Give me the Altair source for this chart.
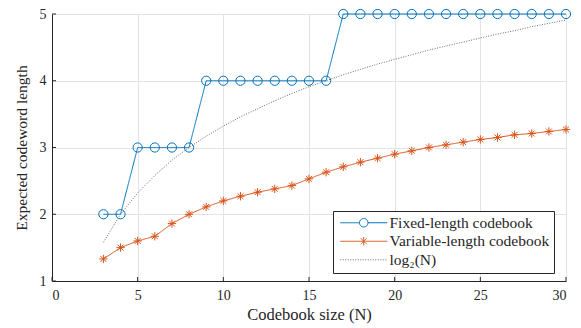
import altair as alt
import pandas as pd

N = list(range(3, 31))
fixed_len = [2, 2, 3, 3, 3, 3, 4, 4, 4, 4, 4, 4, 4, 4, 5, 5, 5, 5, 5, 5, 5, 5, 5, 5, 5, 5, 5, 5]
variable_len = [1.33, 1.50, 1.60, 1.67, 1.86, 2.00, 2.11, 2.20, 2.27, 2.33, 2.38, 2.43, 2.53, 2.63,
                2.71, 2.78, 2.84, 2.90, 2.95, 3.00, 3.04, 3.08, 3.12, 3.15, 3.19, 3.21, 3.24, 3.27]
log2_vals = [1.58, 2.00, 2.32, 2.58, 2.81, 3.00, 3.17, 3.32, 3.46, 3.58, 3.70, 3.81, 3.91, 4.00,
             4.09, 4.17, 4.25, 4.32, 4.39, 4.46, 4.52, 4.58, 4.64, 4.70, 4.75, 4.81, 4.86, 4.91]
series_names = ["Fixed-length codebook", "Variable-length codebook", "log\u2082(N)"]
x_ticks = [0, 5, 10, 15, 20, 25, 30]
y_ticks = [1, 2, 3, 4, 5]

BLUE = "#0072BD"
ORANGE = "#D95319"
GRAY = "#6e6e6e"
DARK = "#262626"
FONT = "Liberation Serif"

rows = []
for name, vals in zip(series_names, [fixed_len, variable_len, log2_vals]):
    for n, v in zip(N, vals):
        rows.append({"N": n, "value": v, "series": name})
df = pd.DataFrame(rows)

xticks_df = pd.DataFrame({"t": x_ticks})
yticks_df = pd.DataFrame({"t": y_ticks})

W, H = 514, 267

x_scale = alt.Scale(domain=[0, 30], nice=False, zero=False)
y_scale = alt.Scale(domain=[1, 5], nice=False, zero=False)

x_enc = alt.X("N:Q", scale=x_scale,
              axis=alt.Axis(values=x_ticks, format="d", title="Codebook size (N)", grid=True))
y_enc = alt.Y("value:Q", scale=y_scale,
              axis=alt.Axis(values=y_ticks, format="d", title="Expected codeword length", grid=True))

asterisk = "M-1,0L1,0M0,-1L0,1M-0.7,-0.7L0.7,0.7M-0.7,0.7L0.7,-0.7"
# legend symbols: unit = sqrt(symbolSize)/2 = 5px, so +-4.7 units = 47px wide
leg_circle = ("M-4.7,0L-0.85,0M0.85,0L4.7,0"
              "M-0.85,0A0.85,0.85 0 1,0 0.85,0A0.85,0.85 0 1,0 -0.85,0")
leg_star = ("M-4.7,0L4.7,0M0,-0.85L0,0.85M-0.6,-0.6L0.6,0.6M-0.6,0.6L0.6,-0.6")
leg_line = "M-4.7,0L4.7,0"

color_scale = alt.Scale(domain=series_names, range=[BLUE, ORANGE, GRAY])
dash_scale = alt.Scale(domain=series_names, range=[[1, 0], [1, 0], [1, 1.5]])
shape_scale = alt.Scale(domain=series_names, range=[leg_circle, leg_star, leg_line])

base = alt.Chart(df)

lines = base.mark_line(strokeWidth=1).encode(
    x=x_enc, y=y_enc,
    color=alt.Color("series:N", scale=color_scale, title=None),
    strokeDash=alt.StrokeDash("series:N", scale=dash_scale, title=None),
    detail="series:N",
)

circles = base.transform_filter(
    alt.datum.series == series_names[0]
).mark_point(shape="circle", filled=False, size=85, strokeWidth=1, color=BLUE, opacity=1).encode(
    x=alt.X("N:Q", scale=x_scale), y=alt.Y("value:Q", scale=y_scale)
)

stars = base.transform_filter(
    alt.datum.series == series_names[1]
).mark_point(shape=asterisk, filled=False, size=70, strokeWidth=1, color=ORANGE, opacity=1).encode(
    x=alt.X("N:Q", scale=x_scale), y=alt.Y("value:Q", scale=y_scale)
)

legend_layer = base.transform_filter("false").mark_point(filled=False, strokeWidth=1, opacity=1).encode(
    x=alt.X("N:Q", scale=x_scale), y=alt.Y("value:Q", scale=y_scale),
    color=alt.Color("series:N", scale=color_scale, title=None),
    strokeDash=alt.StrokeDash("series:N", scale=dash_scale, title=None),
    shape=alt.Shape("series:N", scale=shape_scale, title=None),
)

xt = alt.Chart(xticks_df).mark_rule(color=DARK, strokeWidth=1).encode(
    x=alt.X("t:Q", scale=x_scale), y=alt.value(H), y2=alt.value(H - 4)
)
yt = alt.Chart(yticks_df).mark_rule(color=DARK, strokeWidth=1).encode(
    y=alt.Y("t:Q", scale=y_scale), x=alt.value(0), x2=alt.value(4)
)

chart = alt.layer(lines, circles, stars, legend_layer, xt, yt).properties(
    width=W, height=H,
    autosize=alt.AutoSizeParams(type="none"),
    padding={"left": 52, "top": 14, "right": 15, "bottom": 47},
).configure(
    font=FONT
).configure_view(
    stroke=None
).configure_axis(
    domainColor=DARK, domainWidth=1, tickSize=0,
    gridColor="#e3e3e3", gridWidth=1,
    labelFont=FONT, labelFontSize=14, labelColor=DARK,
    titleFont=FONT, titleFontSize=16.5, titleColor=DARK, titleFontWeight="normal",
).configure_axisX(
    labelPadding=7, titlePadding=4,
).configure_axisY(
    labelPadding=6, titlePadding=10, titleFontSize=15.5,
).configure_legend(
    orient="none", legendX=281, legendY=197,
    symbolSize=100, symbolStrokeWidth=1, symbolOffset=19,
    labelFont=FONT, labelFontSize=15.5, labelColor=DARK, labelOffset=18, labelLimit=400,
    strokeColor=DARK, fillColor="white", padding=4, rowPadding=1.5,
    symbolFillColor="transparent",
)

chart.save("out.html", embed_options={"renderer": "svg", "actions": False})
